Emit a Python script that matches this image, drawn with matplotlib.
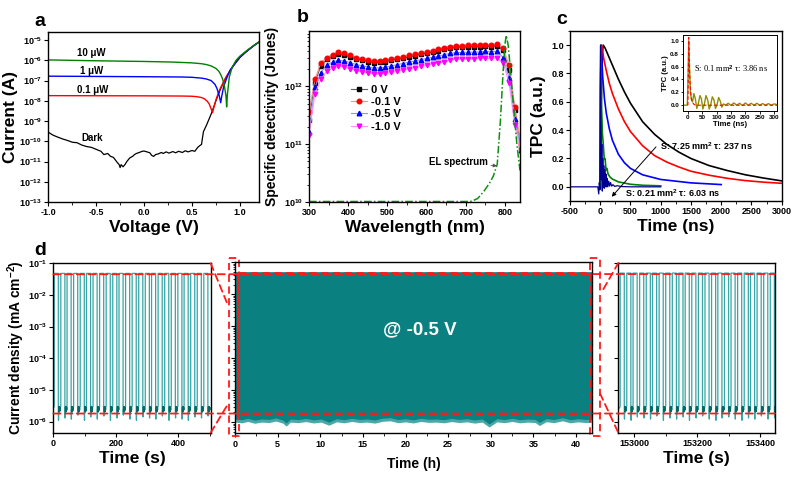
import numpy as np
import matplotlib
matplotlib.use('Agg')
import matplotlib.pyplot as plt
from matplotlib.ticker import FixedLocator, FuncFormatter, MultipleLocator, NullLocator, LogLocator, NullFormatter
from matplotlib.patches import ConnectionPatch

plt.rcParams['font.family'] = ['Liberation Sans', 'DejaVu Sans']
plt.rcParams['font.weight'] = 'bold'
plt.rcParams['axes.labelweight'] = 'bold'
plt.rcParams['mathtext.fontset'] = 'custom'
plt.rcParams['mathtext.rm'] = 'Liberation Sans:bold'
plt.rcParams['mathtext.bf'] = 'Liberation Sans:bold'
plt.rcParams['mathtext.it'] = 'Liberation Sans:italic:bold'
plt.rcParams['mathtext.default'] = 'rm'
plt.rcParams['axes.linewidth'] = 1.0

# ---------------- panel a data ----------------
v_dark = [-1.0, -0.95, -0.9, -0.85, -0.8, -0.75, -0.7, -0.65, -0.6, -0.55, -0.5, -0.45, -0.42, -0.38,
          -0.35, -0.32, -0.3, -0.28, -0.26, -0.25, -0.24, -0.22, -0.2, -0.18, -0.15, -0.12, -0.1, -0.08,
          -0.05, -0.02, 0.0, 0.03, 0.06, 0.08, 0.1, 0.12, 0.15, 0.18, 0.2, 0.23, 0.26, 0.3, 0.33, 0.36,
          0.4, 0.43, 0.46, 0.5, 0.53, 0.56, 0.58, 0.6, 0.61, 0.62, 0.65, 0.68, 0.7, 0.72, 0.75, 0.8,
          0.85, 0.9, 0.95, 1.0, 1.05, 1.1, 1.15, 1.2]
i_dark = [2.8e-10, 2.0e-10, 1.6e-10, 1.3e-10, 1.1e-10, 9e-11, 8.5e-11, 6.5e-11, 5.5e-11, 5e-11, 4e-11,
          3.2e-11, 2.2e-11, 2.5e-11, 1.8e-11, 1.6e-11, 1.2e-11, 9e-12, 7e-12, 5e-12, 7e-12, 5.5e-12,
          7e-12, 1e-11, 1.5e-11, 1.8e-11, 2.2e-11, 2.5e-11, 2.8e-11, 3.2e-11, 3.3e-11, 3e-11, 2.7e-11,
          2e-11, 1.8e-11, 2.2e-11, 2.4e-11, 2.8e-11, 2.5e-11, 3e-11, 2.6e-11, 3.1e-11, 2.7e-11, 3.2e-11,
          2.8e-11, 3.4e-11, 3e-11, 3.5e-11, 3.2e-11, 5e-11, 6e-11, 7e-11, 1.5e-10, 3e-10, 6e-10, 1.3e-9,
          2.2e-9, 4e-9, 1e-8, 4e-8, 1.3e-7, 3.2e-7, 7e-7, 1.4e-6, 2.3e-6, 3.6e-6, 5.5e-6, 8e-6]
v_01 = [-1.0, -0.5, 0.0, 0.4, 0.5, 0.55, 0.6, 0.63, 0.66, 0.68, 0.7, 0.715, 0.73, 0.75, 0.78, 0.8,
        0.85, 0.9, 0.95, 1.0, 1.05, 1.1, 1.15, 1.2]
i_01 = [1.8e-8, 1.78e-8, 1.76e-8, 1.72e-8, 1.68e-8, 1.6e-8, 1.45e-8, 1.25e-8, 9.5e-9, 7e-9, 4e-9,
        2.6e-9, 5e-9, 1.1e-8, 2.8e-8, 4.5e-8, 1.3e-7, 3.2e-7, 7e-7, 1.4e-6, 2.3e-6, 3.6e-6, 5.5e-6, 8e-6]
v_1 = [-1.0, -0.5, 0.0, 0.4, 0.5, 0.6, 0.65, 0.7, 0.74, 0.76, 0.785, 0.8, 0.81, 0.83, 0.85, 0.87,
       0.9, 0.95, 1.0, 1.05, 1.1, 1.15, 1.2]
i_1 = [1.65e-7, 1.6e-7, 1.55e-7, 1.5e-7, 1.45e-7, 1.32e-7, 1.2e-7, 1.0e-7, 6.5e-8, 4.2e-8, 1.8e-8,
       8e-9, 1.6e-8, 4.8e-8, 9e-8, 1.6e-7, 3.4e-7, 7e-7, 1.4e-6, 2.3e-6, 3.6e-6, 5.5e-6, 8e-6]
v_10 = [-1.0, -0.5, 0.0, 0.3, 0.5, 0.6, 0.65, 0.7, 0.75, 0.78, 0.8, 0.82, 0.84, 0.855, 0.862, 0.87,
        0.89, 0.92, 0.96, 1.0, 1.05, 1.1, 1.15, 1.2]
i_10 = [1.05e-6, 9.5e-7, 8.8e-7, 8.2e-7, 7.5e-7, 6.8e-7, 6.2e-7, 5.3e-7, 4.0e-7, 2.9e-7, 2.0e-7,
        1.2e-7, 5e-8, 1.8e-8, 5e-9, 2e-8, 1.5e-7, 4.6e-7, 1.0e-6, 1.6e-6, 2.5e-6, 3.8e-6, 5.6e-6, 8e-6]

# ---------------- panel b data ----------------
wl = [300, 315, 330, 345, 360, 375, 390, 405, 420, 435, 450, 465, 480, 495, 510, 525, 540, 555, 570,
      585, 600, 615, 630, 645, 660, 675, 690, 705, 720, 735, 750, 765, 780, 795, 810, 825, 840]
d_0v = [2.6e11, 1.15e12, 2.2e12, 2.9e12, 3.3e12, 3.55e12, 3.4e12, 3.2e12, 2.95e12, 2.8e12, 2.65e12,
        2.55e12, 2.57e12, 2.65e12, 2.8e12, 2.95e12, 3.0e12, 3.2e12, 3.35e12, 3.55e12, 3.7e12, 3.85e12,
        4.05e12, 4.3e12, 4.5e12, 4.7e12, 4.7e12, 4.75e12, 4.75e12, 4.8e12, 4.85e12, 4.8e12, 5.0e12,
        4.2e12, 1.9e12, 3.9e11, 9e10]
d_m01v = [3.5e11, 1.3e12, 2.5e12, 3.1e12, 3.5e12, 3.8e12, 3.65e12, 3.4e12, 3.1e12, 2.95e12, 2.8e12,
          2.7e12, 2.72e12, 2.8e12, 2.95e12, 3.1e12, 3.2e12, 3.4e12, 3.56e12, 3.76e12, 3.9e12, 4.1e12,
          4.3e12, 4.6e12, 4.8e12, 5.0e12, 5.0e12, 5.1e12, 5.1e12, 5.15e12, 5.2e12, 5.15e12, 5.4e12,
          4.5e12, 2.3e12, 4.3e11, 1.0e11]
d_m05v = [1.6e11, 9.5e11, 1.7e12, 2.3e12, 2.6e12, 2.8e12, 2.7e12, 2.55e12, 2.35e12, 2.25e12, 2.15e12,
          2.05e12, 2.07e12, 2.12e12, 2.22e12, 2.35e12, 2.45e12, 2.6e12, 2.7e12, 2.85e12, 3.0e12, 3.12e12,
          3.27e12, 3.5e12, 3.65e12, 3.8e12, 3.8e12, 3.85e12, 3.85e12, 3.9e12, 3.95e12, 3.9e12, 4.0e12,
          3.1e12, 1.4e12, 2.7e11, 8e10]
d_m10v = [1.45e11, 7.2e11, 1.3e12, 1.8e12, 2.05e12, 2.2e12, 2.1e12, 2.0e12, 1.85e12, 1.75e12, 1.68e12,
          1.6e12, 1.62e12, 1.65e12, 1.72e12, 1.8e12, 1.88e12, 1.98e12, 2.07e12, 2.18e12, 2.28e12, 2.38e12,
          2.5e12, 2.65e12, 2.78e12, 2.9e12, 2.9e12, 2.95e12, 2.95e12, 3.0e12, 3.0e12, 3.0e12, 3.05e12,
          2.5e12, 1.15e12, 2.1e11, 7.5e10]
el_wl = [300, 700, 715, 730, 745, 760, 770, 780, 788, 795, 800, 803, 808, 815, 822, 830, 838]
el_val = [1.02e10, 1.02e10, 1.03e10, 1.15e10, 1.5e10, 2.1e10, 2.8e10, 4.5e10, 2.5e11, 1.8e12, 5.5e12,
          7.5e12, 5e12, 1.5e12, 4e11, 1e11, 3.5e10]

# ---------------- panel c data ----------------
t_k = [0, 15, 35, 50, 80, 120, 200, 300, 400, 500, 700, 900, 1100, 1300, 1500, 1800, 2100, 2400, 2700, 3000]
y_k = [0, 0.55, 0.95, 1.0, 0.98, 0.94, 0.86, 0.76, 0.67, 0.59, 0.46, 0.37, 0.3, 0.245, 0.2, 0.15,
       0.115, 0.085, 0.062, 0.042]
t_r = [0, 10, 25, 60, 100, 150, 200, 300, 400, 500, 700, 900, 1100, 1300, 1500, 1800, 2100, 2400, 2700, 3000]
y_r = [0, 0.6, 1.0, 0.9, 0.82, 0.73, 0.66, 0.55, 0.46, 0.39, 0.29, 0.22, 0.175, 0.14, 0.11, 0.082,
       0.06, 0.044, 0.033, 0.025]
t_b = [0, 5, 15, 40, 70, 100, 150, 200, 300, 400, 500, 700, 1000, 1500, 2000]
y_b = [0, 0.7, 1.0, 0.78, 0.62, 0.52, 0.41, 0.33, 0.23, 0.17, 0.13, 0.085, 0.052, 0.028, 0.016]
t_g = [0, 4, 10, 20, 35, 50, 65, 80, 95, 110, 130, 160, 200, 300, 500, 700, 1000]
y_g = [0, 0.8, 1.0, 0.6, 0.38, 0.3, 0.2, 0.2, 0.12, 0.13, 0.09, 0.07, 0.055, 0.035, 0.018, 0.011, 0.007]
t_n = [-500, -40, -25, -15, -5, 0, 5, 10, 18, 26, 34, 42, 50, 58, 66, 75, 85, 95, 105, 115, 125, 140,
       155, 170, 190, 210, 240, 280, 350, 500, 1000]
y_n = [0, 0, -0.05, 0.03, -0.02, 0.6, 1.0, 0.5, 0.05, 0.3, -0.03, 0.2, 0.0, 0.15, -0.01, 0.12, 0.0,
       0.09, 0.0, 0.06, 0.0, 0.04, 0.005, 0.03, 0.005, 0.015, 0.003, 0.008, 0.002, 0.0, 0.0]
t_in = [-17, -2, 0, 3, 6, 9, 12, 16, 21, 26, 31, 36, 42, 47, 52, 57, 63, 69, 74, 79, 85, 91, 96, 101,
        107, 113, 118, 124, 131, 140, 150, 160, 170, 180, 190, 200, 210, 220, 230, 240, 250, 260, 270,
        280, 290, 300, 310]
y_in = [0, 0, 0.3, 1.0, 0.55, 0.2, 0.1, 0.05, 0.18, 0.1, -0.05, 0.02, 0.15, 0.1, -0.06, 0.01, 0.15,
        0.08, -0.06, 0.0, 0.13, 0.08, -0.05, 0.0, 0.12, 0.06, -0.03, 0.02, 0.0, 0.03, 0.0, 0.035, 0.0,
        0.03, -0.005, 0.035, 0.0, 0.03, 0.0, 0.03, 0.0, 0.025, 0.0, 0.025, 0.0, 0.02, 0.01]
t_fit = [0, 3, 5, 7, 9, 12, 16, 22, 30, 310]
y_fit = [0, 1.05, 0.63, 0.38, 0.23, 0.1, 0.04, 0.01, 0.0, 0.0]

# ---------------- panel d data ----------------
on_level = 4.8e-2
ref_on = 4.5e-2
ref_off = 1.8e-6
pulse_len = 13
left_starts = [3, 24, 44, 65, 86, 106, 127, 148, 169, 190, 210, 231, 252, 273, 294, 314, 335, 356,
               377, 398, 418, 439, 460, 481]
left_dips = [1.1e-6, 1.3e-6, 1.2e-6, 1.6e-6, 1.1e-6, 1.4e-6, 1.2e-6, 1.5e-6, 1.1e-6, 1.3e-6, 1.6e-6,
             1.2e-6, 1.1e-6, 1.4e-6, 1.3e-6, 1.2e-6, 1.5e-6, 1.1e-6, 1.3e-6, 1.2e-6, 1.1e-6, 1.4e-6,
             1.3e-6, 1.5e-6]
right_starts = [152955, 152976, 152996, 153017, 153038, 153058, 153079, 153100, 153121, 153142,
                153162, 153183, 153204, 153225, 153246, 153266, 153287, 153308, 153329, 153350,
                153370, 153391, 153412, 153433]
right_dips = [1.2e-6, 1.1e-6, 1.4e-6, 1.3e-6, 1.2e-6, 1.5e-6, 1.1e-6, 1.3e-6, 1.2e-6, 1.4e-6, 1.1e-6,
              1.3e-6, 1.5e-6, 1.2e-6, 1.1e-6, 1.3e-6, 1.4e-6, 1.2e-6, 1.1e-6, 1.3e-6, 1.2e-6, 1.5e-6,
              1.2e-6, 1.3e-6]
off_noise = [2.2e-6, 3.0e-6, 2.0e-6, 2.8e-6, 2.1e-6, 2.9e-6, 2.3e-6, 2.7e-6]
mid_t = [0, 0.8, 1.5, 2.3, 3.1, 4.0, 4.8, 5.6, 6.0, 6.5, 7.4, 8.3, 9.2, 10.1, 11.0, 11.9, 12.8, 13.7,
         14.6, 15.5, 16.4, 17.3, 18.2, 19.1, 20.0, 20.9, 21.8, 22.7, 23.6, 24.5, 25.4, 26.3, 27.2, 28.1,
         29.0, 29.8, 30.7, 31.6, 32.5, 33.4, 34.3, 35.2, 35.7, 36.5, 37.4, 38.4, 39.3, 40.2, 41.1, 41.9]
mid_low = [1.0e-6, 0.95e-6, 1.05e-6, 0.92e-6, 1.0e-6, 0.97e-6, 1.08e-6, 0.93e-6, 0.75e-6, 1.0e-6,
           0.96e-6, 1.04e-6, 0.94e-6, 1.0e-6, 0.8e-6, 1.02e-6, 0.95e-6, 1.05e-6, 0.97e-6, 1.0e-6,
           0.93e-6, 1.06e-6, 1.1e-6, 0.96e-6, 1.02e-6, 0.94e-6, 1.05e-6, 0.98e-6, 1.0e-6, 0.95e-6,
           1.04e-6, 0.97e-6, 1.02e-6, 0.93e-6, 1.0e-6, 0.7e-6, 1.02e-6, 0.96e-6, 1.05e-6, 0.95e-6,
           1.0e-6, 0.97e-6, 0.78e-6, 1.03e-6, 0.96e-6, 1.1e-6, 0.95e-6, 1.02e-6, 0.97e-6, 1.0e-6]
left_box = [-0.65, 0.5, 10**-0.864, 10**-6.42]
right_box = [41.6, 42.8, 10**-0.864, 10**-6.42]

# ---------------- figure ----------------
W, H = 800.0, 479.0
fig = plt.figure(figsize=(W / 100, H / 100), dpi=100)


def rect(l, t, r, b):
    return [l / W, 1 - b / H, (r - l) / W, (b - t) / H]


def pow_fmt(v, pos):
    return r'$10^{%d}$' % int(round(np.log10(v)))


def style(ax, size=6.5):
    ax.tick_params(which='major', direction='out', length=3, width=0.8, labelsize=size, pad=1.5)
    ax.tick_params(which='minor', direction='out', length=1.8, width=0.6)
    for lab in ax.get_xticklabels() + ax.get_yticklabels():
        lab.set_fontweight('bold')


RED = '#ff1a1a'
TEAL = '#0a8080'
TEAL_L = '#35a5a5'

# ----- a -----
axa = fig.add_axes(rect(48.3, 32, 259, 202))
axa.plot(v_dark, i_dark, color='black', lw=0.9)
axa.plot(v_01, i_01, color='red', lw=1.0)
axa.plot(v_1, i_1, color='blue', lw=1.0)
axa.plot(v_10, i_10, color='green', lw=1.0)
axa.set_yscale('log')
axa.set_xlim(-1.0, 1.2)
axa.set_ylim(1e-13, 10 ** -4.6)
axa.yaxis.set_major_locator(FixedLocator([10.0 ** k for k in range(-13, -4)]))
axa.yaxis.set_major_formatter(FuncFormatter(pow_fmt))
axa.yaxis.set_minor_locator(NullLocator())
axa.xaxis.set_major_locator(MultipleLocator(0.5))
axa.xaxis.set_minor_locator(MultipleLocator(0.25))
axa.xaxis.set_major_formatter(FuncFormatter(lambda v, p: '%.1f' % v))
style(axa)
axa.set_xlabel('Voltage (V)', fontsize=12.5, labelpad=2)
axa.set_ylabel('Current (A)', fontsize=12.5)
axa.yaxis.set_label_coords(-0.145, 0.5)
axa.text(-0.70, 10 ** -5.63, '10 μW', fontsize=7, va='center')
axa.text(-0.67, 10 ** -6.53, '1 μW', fontsize=7, va='center')
axa.text(-0.70, 10 ** -7.47, '0.1 μW', fontsize=7, va='center')
axa.text(-0.65, 10 ** -9.83, 'Dark', fontsize=7, va='center')

# ----- b -----
axb = fig.add_axes(rect(309, 31, 520, 202))
series_b = [(d_0v, '0 V', 's', 'black', '#606060'),
            (d_m01v, '-0.1 V', 'o', 'red', '#ff9090'),
            (d_m05v, '-0.5 V', '^', 'blue', '#9090ff'),
            (d_m10v, '-1.0 V', 'v', 'magenta', '#ff90ff')]
for vals, lab, mk, c, lc in series_b:
    axb.plot(wl, vals, color=lc, lw=0.8, marker=mk, ms=3.3, mfc=c, mec=c, label=lab)
axb.plot(el_wl, el_val, color='#109010', lw=1.1, linestyle=(0, (5, 1.5, 1, 1.5)))
axb.set_yscale('log')
axb.set_xlim(300, 838)
axb.set_ylim(1e10, 10 ** 12.95)
axb.yaxis.set_major_locator(FixedLocator([1e10, 1e11, 1e12]))
axb.yaxis.set_major_formatter(FuncFormatter(pow_fmt))
axb.yaxis.set_minor_locator(LogLocator(base=10, subs=np.arange(2, 10), numticks=20))
axb.yaxis.set_minor_formatter(NullFormatter())
axb.xaxis.set_major_locator(MultipleLocator(100))
axb.xaxis.set_minor_locator(MultipleLocator(50))
style(axb)
axb.set_xlabel('Wavelength (nm)', fontsize=12.5, labelpad=2)
axb.set_ylabel('Specific detectivity (Jones)', fontsize=10)
axb.yaxis.set_label_coords(-0.14, 0.5)
axb.legend(loc='upper left', bbox_to_anchor=(0.2, 0.685), frameon=False, fontsize=8,
           handlelength=1.4, labelspacing=0.2, handletextpad=0.4, borderpad=0, borderaxespad=0)
axb.annotate('EL spectrum', xy=(779, 4.2e10), xytext=(757, 4.9e10), fontsize=7, ha='right',
             va='center', arrowprops=dict(arrowstyle='-|>', lw=0.6, color='#505050',
                                           mutation_scale=5, shrinkA=0, shrinkB=0))

# ----- c -----
axc = fig.add_axes(rect(570, 31, 781.7, 201))
axc.plot(t_k, y_k, color='black', lw=1.2)
axc.plot(t_r, y_r, color='red', lw=1.2)
axc.plot(t_b, y_b, color='blue', lw=1.2)
axc.plot(t_g, y_g, color='green', lw=1.2)
axc.plot(t_n, y_n, color='#000090', lw=0.9)
axc.set_xlim(-500, 3000)
axc.set_ylim(-0.1, 1.1)
axc.xaxis.set_major_locator(MultipleLocator(500))
axc.xaxis.set_minor_locator(MultipleLocator(250))
axc.yaxis.set_major_locator(MultipleLocator(0.2))
axc.yaxis.set_minor_locator(MultipleLocator(0.1))
axc.yaxis.set_major_formatter(FuncFormatter(lambda v, p: '%.1f' % v))
axc.xaxis.set_major_formatter(FuncFormatter(lambda v, p: '%d' % v))
style(axc)
axc.set_xlabel('Time (ns)', fontsize=12.5, labelpad=2)
axc.set_ylabel('TPC (a.u.)', fontsize=12.5)
axc.yaxis.set_label_coords(-0.115, 0.5)
axc.annotate('', xy=(190, -0.07), xytext=(922, 0.282),
             arrowprops=dict(arrowstyle='-|>', lw=0.7, color='black', mutation_scale=6,
                             shrinkA=0, shrinkB=0))
axc.text(990, 0.29, 'S: 7.25 mm$^2$ τ: 237 ns', fontsize=6.5, va='center')
axc.text(410, -0.042, 'S: 0.21 mm$^2$ τ: 6.03 ns', fontsize=6.5, va='center')

axi = fig.add_axes(rect(683, 35, 777, 111))
axi.plot(t_in, y_in, color='#8f8f00', lw=1.0)
axi.plot(t_fit, y_fit, color='red', lw=0.8, linestyle=(0, (3, 2)))
axi.set_xlim(-17, 310)
axi.set_ylim(-0.09, 1.09)
axi.xaxis.set_major_locator(MultipleLocator(50))
axi.yaxis.set_major_locator(MultipleLocator(0.2))
axi.yaxis.set_major_formatter(FuncFormatter(lambda v, p: '%.1f' % v))
axi.tick_params(which='major', direction='out', length=1.8, width=0.6, labelsize=4.5, pad=1)
for s in axi.spines.values():
    s.set_linewidth(0.7)
axi.set_xlabel('Time (ns)', fontsize=5.5, labelpad=0.5)
axi.set_ylabel('TPC (a.u.)', fontsize=5.5, labelpad=1)
axi.text(22, 0.55, 'S: 0.1 mm$^2$ τ: 3.86 ns', fontsize=6, family='Liberation Serif',
         fontweight='normal', va='center')


# ----- d -----
def pulse_trace(starts, dips):
    ts, ys = [starts[0] - 8], [off_noise[0]]
    for s, d in zip(starts, dips):
        e = s + pulse_len
        ts += [s, s, e, e, e + 0.7, e + 1.5]
        ys += [off_noise[1], on_level, on_level, off_noise[2], d, off_noise[3]]
    return ts, ys


def off_blobs(ax, starts):
    for s in starts:
        e = s + pulse_len
        tt = [e + 1.5 + 0.7 * k for k in range(len(off_noise))]
        ax.plot(tt, off_noise, color='#006a6a', lw=1.0)


axl = fig.add_axes(rect(53.3, 263.3, 210.7, 432.7))
axm = fig.add_axes(rect(235, 262.3, 592.3, 433.3))
axr = fig.add_axes(rect(618.3, 263, 775, 432.7))

tl, yl = pulse_trace(left_starts, left_dips)
axl.plot(tl, yl, color=TEAL_L, lw=0.9)
off_blobs(axl, left_starts)
tr, yr = pulse_trace(right_starts, right_dips)
axr.plot(tr, yr, color=TEAL_L, lw=0.9)
off_blobs(axr, right_starts)

mid_low_arr = np.array(mid_low)
axm.fill_between(mid_t, mid_low_arr, [on_level * 1.05] * len(mid_t), color='#4aa8a8', lw=0)
axm.fill_between(mid_t, mid_low_arr * 1.25, [on_level * 1.05] * len(mid_t), color=TEAL, lw=0)

for ax in (axl, axm, axr):
    ax.set_yscale('log')
    ax.set_ylim(10 ** -6.35, 1e-1)
    ax.yaxis.set_major_locator(FixedLocator([10.0 ** k for k in range(-6, 0)]))
    ax.yaxis.set_minor_formatter(NullFormatter())
    ax.yaxis.set_minor_locator(NullLocator())
axl.yaxis.set_major_formatter(FuncFormatter(pow_fmt))
axm.yaxis.set_major_formatter(NullFormatter())
axr.yaxis.set_major_formatter(NullFormatter())
axm.yaxis.set_minor_locator(LogLocator(base=10, subs=np.arange(2, 10), numticks=20))

axl.set_xlim(0, 503)
axl.xaxis.set_major_locator(MultipleLocator(200))
axl.xaxis.set_minor_locator(MultipleLocator(100))
axm.set_xlim(0, 41.9)
axm.xaxis.set_major_locator(MultipleLocator(5))
axm.xaxis.set_minor_locator(MultipleLocator(2.5))
axr.set_xlim(152949, 153448)
axr.xaxis.set_major_locator(MultipleLocator(200))
axr.xaxis.set_minor_locator(MultipleLocator(100))
axr.xaxis.set_major_formatter(FuncFormatter(lambda v, p: '%d' % v))
for ax in (axl, axm, axr):
    style(ax)
axl.set_xlabel('Time (s)', fontsize=12.5, labelpad=2)
axr.set_xlabel('Time (s)', fontsize=12.5, labelpad=2)
axm.set_xlabel('Time (h)', fontsize=10, labelpad=6)
axl.set_ylabel('Current density (mA cm$^{-2}$)', fontsize=10)
axl.yaxis.set_label_coords(-0.17, 0.5)
axm.text(21.7, 10 ** -3.1, '@ -0.5 V', color='white', fontsize=13.5, ha='center', va='center')

DASH = (0, (4, 2.5))
# inner dashed rectangle and side boxes
axm.plot([left_box[1], right_box[0], right_box[0], left_box[1], left_box[1]],
         [ref_on, ref_on, ref_off, ref_off, ref_on], color=RED, lw=1.3, linestyle=DASH, clip_on=False)
for bx in (left_box, right_box):
    axm.plot([bx[0], bx[1], bx[1], bx[0], bx[0]], [bx[2], bx[2], bx[3], bx[3], bx[2]],
             color=RED, lw=1.3, linestyle=DASH, clip_on=False)


def red_link(xyA, axA, xyB, axB):
    con = ConnectionPatch(xyA=xyA, coordsA=axA.transData, xyB=xyB, coordsB=axB.transData,
                          color=RED, lw=1.3, linestyle=DASH)
    fig.add_artist(con)


for lev in (ref_on, ref_off):
    red_link((0, lev), axl, (153448, lev), axr)
red_link((503, 1e-1), axl, (-0.97, 10 ** -2.25), axm)
red_link((503, 10 ** -6.35), axl, (-0.79, 10 ** -5.42), axm)
red_link((43.2, 10 ** -1.84), axm, (152949, 1e-1), axr)
red_link((42.8, 10 ** -5.1), axm, (152949, 10 ** -6.35), axr)

# panel letters
for txt, x, y in (('a', 40, 22), ('b', 303, 18), ('c', 562, 19), ('d', 40, 250)):
    fig.text(x / W, 1 - y / H, txt, fontsize=14, fontweight='bold', ha='center', va='center')

fig.savefig('out.png', dpi=100)
